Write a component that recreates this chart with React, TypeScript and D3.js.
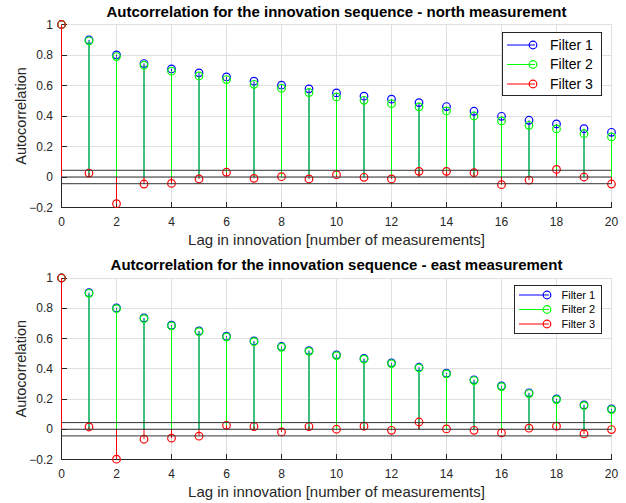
import React from 'react';
import * as d3 from 'd3';

// Lag axis (number of measurements)
const lags = [0, 1, 2, 3, 4, 5, 6, 7, 8, 9, 10, 11, 12, 13, 14, 15, 16, 17, 18, 19, 20];
const xTicks = [0, 2, 4, 6, 8, 10, 12, 14, 16, 18, 20];
const yTicks = [-0.2, 0, 0.2, 0.4, 0.6, 0.8, 1];

// Approximate 95% whiteness bound
const confBound = 0.044;

const seriesNames = ['Filter 1', 'Filter 2', 'Filter 3'];
const seriesColors = ['#0000ff', '#00ff00', '#ff0000'];

// North innovation autocorrelation
const northFilter1 = [1, 0.899, 0.801, 0.744, 0.709, 0.683, 0.656, 0.628, 0.602, 0.578, 0.551, 0.53, 0.51, 0.488, 0.462, 0.431, 0.398, 0.372, 0.348, 0.317, 0.293];
const northFilter2 = [1, 0.893, 0.79, 0.733, 0.694, 0.663, 0.639, 0.608, 0.582, 0.554, 0.525, 0.503, 0.481, 0.46, 0.433, 0.4, 0.368, 0.339, 0.315, 0.284, 0.263];
const northFilter3 = [1, 0.026, -0.175, -0.046, -0.042, -0.013, 0.031, -0.009, 0.002, -0.013, 0.015, -0.002, -0.013, 0.037, 0.037, 0.028, -0.05, -0.02, 0.05, 0.0, -0.046];

// East innovation autocorrelation
const eastFilter1 = [1, 0.903, 0.802, 0.736, 0.688, 0.65, 0.615, 0.584, 0.547, 0.52, 0.492, 0.468, 0.439, 0.41, 0.371, 0.327, 0.287, 0.241, 0.201, 0.161, 0.135];
const eastFilter2 = [1, 0.899, 0.797, 0.731, 0.683, 0.645, 0.61, 0.579, 0.542, 0.515, 0.487, 0.463, 0.434, 0.405, 0.366, 0.322, 0.282, 0.236, 0.196, 0.156, 0.13];
const eastFilter3 = [1, 0.015, -0.198, -0.066, -0.059, -0.046, 0.026, 0.018, -0.018, 0.018, 0.0, 0.02, -0.007, 0.048, 0.002, -0.007, -0.024, 0.007, 0.02, -0.031, -0.002];

const FONT = '"Liberation Sans", Arial, Helvetica, sans-serif';
const AXIS_COLOR = '#262626';
const GRID_COLOR = '#e0e0e0';

type LegendSpec = {
  x: number;
  y: number;
  w: number;
  h: number;
  rowY: number[];
  lineX0: number;
  lineX1: number;
  textX: number;
  fontSize: number;
};

type PanelProps = {
  top: number;
  bottom: number;
  title: string;
  series: number[][];
  legend: LegendSpec;
};

function Panel({ top, bottom, title, series, legend }: PanelProps) {
  const left = 61.5;
  const right = 611.5;
  const x = d3.scaleLinear().domain([0, 20]).range([left, right]);
  const y = d3.scaleLinear().domain([-0.2, 1]).range([bottom, top]);
  const r = 3.8;

  return (
    <g>
      {/* grid */}
      <g stroke={GRID_COLOR} strokeWidth={1} shapeRendering="crispEdges">
        {xTicks.map((t) => (
          <line key={'gx' + t} x1={x(t)} x2={x(t)} y1={y(-0.2)} y2={y(1)} />
        ))}
        {yTicks.map((t) => (
          <line key={'gy' + t} x1={x(0)} x2={x(20)} y1={y(t)} y2={y(t)} />
        ))}
      </g>

      {/* axes lines and inward ticks */}
      <g stroke={AXIS_COLOR} strokeWidth={1} shapeRendering="crispEdges">
        <line x1={x(0)} x2={x(0)} y1={y(-0.2)} y2={y(1)} />
        <line x1={x(0)} x2={x(20)} y1={y(-0.2)} y2={y(-0.2)} />
        {yTicks.map((t) => (
          <line key={'ty' + t} x1={x(0)} x2={x(0) + 5.5} y1={y(t)} y2={y(t)} />
        ))}
        {xTicks.map((t) => (
          <line key={'tx' + t} x1={x(t)} x2={x(t)} y1={y(-0.2)} y2={y(-0.2) - 5.5} />
        ))}
      </g>

      {/* tick labels */}
      <g fontFamily={FONT} fontSize={12} fill={AXIS_COLOR}>
        {yTicks.map((t) => (
          <text key={'ly' + t} x={53} y={y(t)} dy="0.35em" textAnchor="end">
            {d3.format('~g')(t)}
          </text>
        ))}
        {xTicks.map((t) => (
          <text key={'lx' + t} x={x(t)} y={y(-0.2) + 18} textAnchor="middle">
            {t}
          </text>
        ))}
      </g>

      {/* stems and markers, one series after another */}
      {series.map((vals, si) => (
        <g key={'s' + si}>
          {lags.map((lag, i) => (
            <line
              key={'st' + i}
              x1={x(lag)}
              x2={x(lag)}
              y1={y(0)}
              y2={y(vals[i])}
              stroke={seriesColors[si]}
              strokeWidth={1}
            />
          ))}
          {lags.map((lag, i) => (
            <circle
              key={'mk' + i}
              cx={x(lag)}
              cy={y(vals[i])}
              r={r}
              fill="none"
              stroke={seriesColors[si]}
              strokeWidth={1.2}
            />
          ))}
        </g>
      ))}

      {/* zero line and confidence bounds */}
      <g stroke="#333333" strokeWidth={1}>
        {[confBound, 0, -confBound].map((v) => (
          <line key={'cb' + v} x1={x(0)} x2={x(20)} y1={y(v)} y2={y(v)} />
        ))}
      </g>

      {/* title and axis labels */}
      <text
        x={(left + right) / 2}
        y={top - 8}
        textAnchor="middle"
        fontFamily={FONT}
        fontWeight="bold"
        fontSize={15}
        fill="#000"
      >
        {title}
      </text>
      <text
        x={(left + right) / 2}
        y={bottom + 37}
        textAnchor="middle"
        fontFamily={FONT}
        fontSize={15}
        fill={AXIS_COLOR}
      >
        Lag in innovation [number of measurements]
      </text>
      <text
        transform={`translate(26,${(top + bottom) / 2}) rotate(-90)`}
        textAnchor="middle"
        fontFamily={FONT}
        fontSize={14.5}
        fill={AXIS_COLOR}
      >
        Autocorrelation
      </text>

      {/* legend */}
      <g>
        <rect
          x={legend.x}
          y={legend.y}
          width={legend.w}
          height={legend.h}
          fill="#fff"
          stroke={AXIS_COLOR}
          strokeWidth={1}
          shapeRendering="crispEdges"
        />
        {seriesNames.map((name, i) => (
          <g key={'lg' + i}>
            <line
              x1={legend.lineX0}
              x2={legend.lineX1}
              y1={legend.rowY[i]}
              y2={legend.rowY[i]}
              stroke={seriesColors[i]}
              strokeWidth={1}
            />
            <circle
              cx={legend.lineX1 - 2}
              cy={legend.rowY[i]}
              r={r}
              fill="none"
              stroke={seriesColors[i]}
              strokeWidth={1.2}
            />
            <text
              x={legend.textX}
              y={legend.rowY[i]}
              dy="0.35em"
              fontFamily={FONT}
              fontSize={legend.fontSize}
              fill="#000"
            >
              {name}
            </text>
          </g>
        ))}
      </g>
    </g>
  );
}

export default function App() {
  return (
    <svg
      width={626}
      height={503}
      style={{ position: 'absolute', left: 0, top: 0, background: '#fff' }}
    >
      <rect x={0} y={0} width={626} height={503} fill="#fff" />
      <Panel
        top={24.5}
        bottom={207.5}
        title="Autcorrelation for the innovation sequence - north measurement"
        series={[northFilter1, northFilter2, northFilter3]}
        legend={{
          x: 502.5,
          y: 32.5,
          w: 99,
          h: 62.5,
          rowY: [45, 64.5, 84],
          lineX0: 507,
          lineX1: 535,
          textX: 550,
          fontSize: 14,
        }}
      />
      <Panel
        top={278}
        bottom={459.5}
        title="Autcorrelation for the innovation sequence - east measurement"
        series={[eastFilter1, eastFilter2, eastFilter3]}
        legend={{
          x: 514.5,
          y: 285.5,
          w: 86.5,
          h: 48,
          rowY: [295, 309.5, 324],
          lineX0: 519,
          lineX1: 549,
          textX: 561.5,
          fontSize: 11,
        }}
      />
    </svg>
  );
}
